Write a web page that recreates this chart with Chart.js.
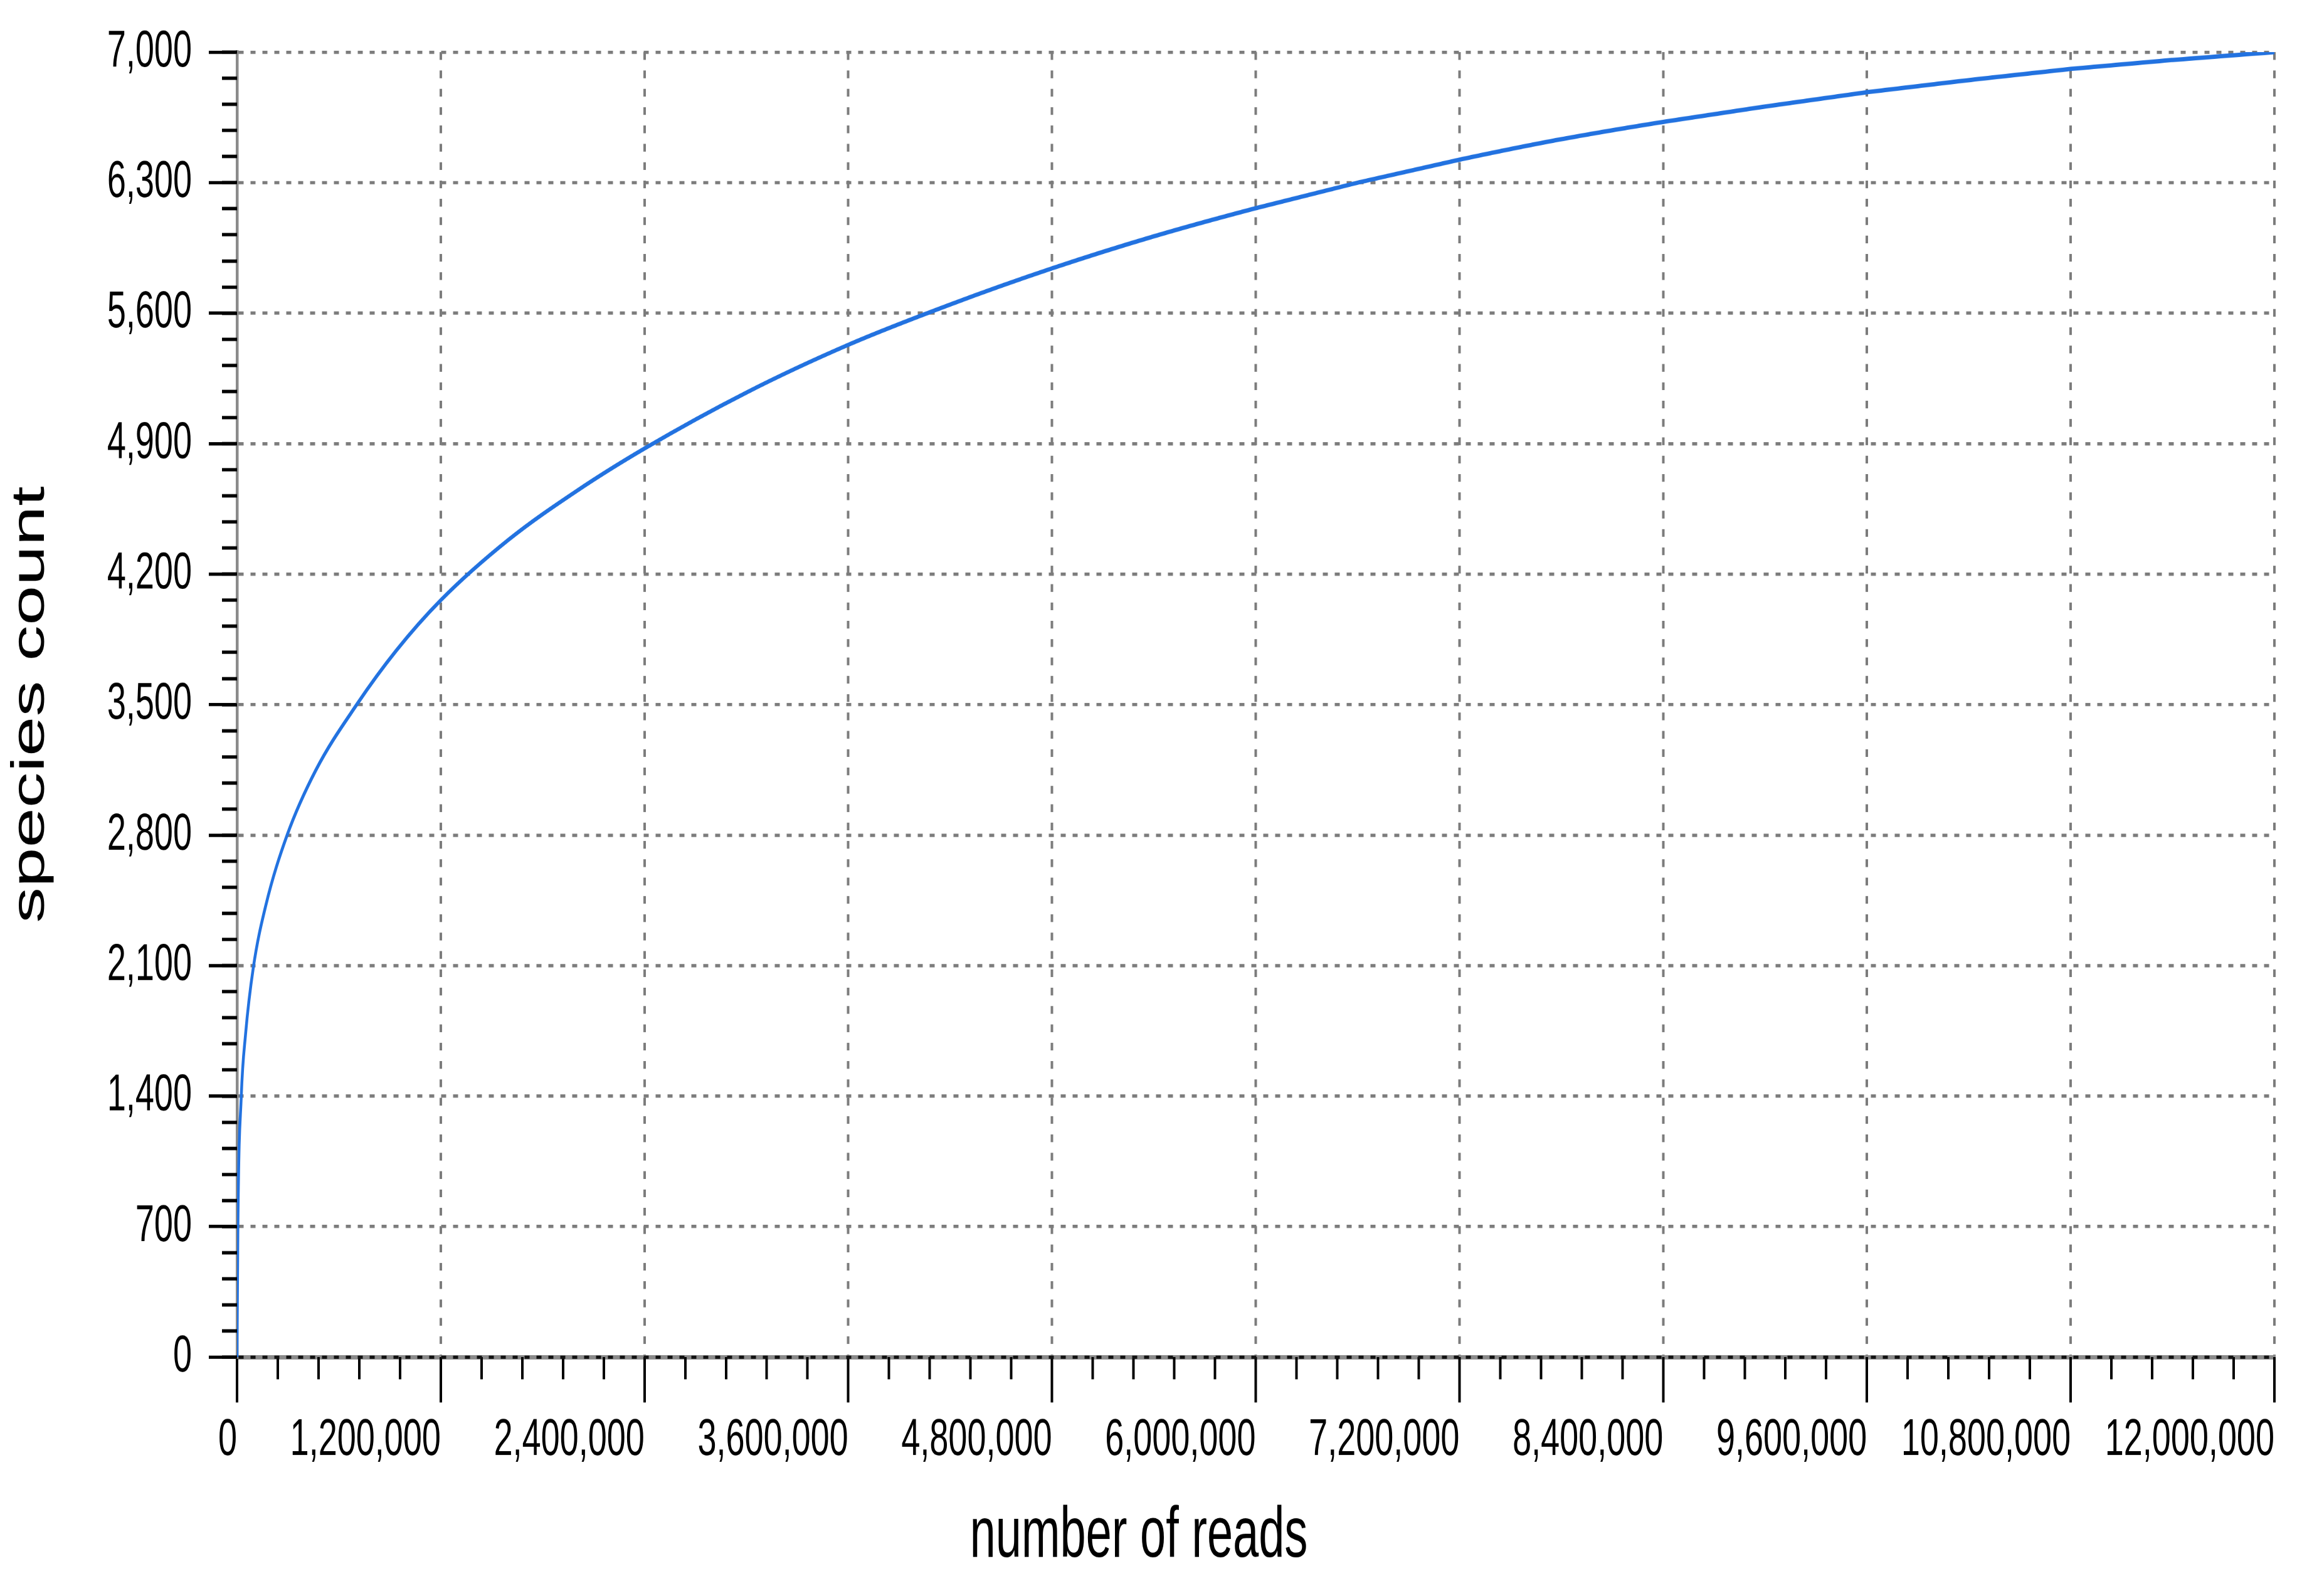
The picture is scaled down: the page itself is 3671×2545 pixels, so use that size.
<!DOCTYPE html>
<html>
<head>
<meta charset="utf-8">
<title>species count vs number of reads</title>
<script src="https://cdn.jsdelivr.net/npm/chart.js@4.4.1/dist/chart.umd.min.js"></script>
<style>
    html, body { margin: 0; padding: 0; background: #ffffff; }
    #page { width: 3671px; height: 2545px; overflow: hidden; position: relative; }
    /* the source picture is stretched vertically, so the chart is drawn flat and then scaled */
    #wrap { width: 3671px; height: 1653px; transform: scaleY(1.5396); transform-origin: 0 0; }
</style>
</head>
<body>
<div id="page"><div id="wrap"><canvas id="RarefactionChart"></canvas></div></div>
<script>
// Values (number of reads -> species count)
const reads = [0, 5000, 25000, 50000, 96000, 170000, 295000, 465000, 705000, 938000,
    1200000, 1600000, 2000000, 2400000, 3000000, 3600000, 4200000, 4800000, 5400000,
    6000000, 6600000, 7200000, 7800000, 8400000, 9000000, 9600000, 10200000,
    10800000, 11400000, 12000000];
const species = [0, 700, 1400, 1730, 2090, 2425, 2800, 3150, 3500, 3790,
    4060, 4385, 4646, 4874, 5174, 5430, 5646, 5840, 6012,
    6163, 6300, 6423, 6533, 6626, 6708, 6785, 6850,
    6910, 6958, 7000];

// Axis ranges and tick steps
const xRange = [0, 12000000];
const xMajorStep = 1200000;
const xMinorStep = 240000;
const yRange = [0, 7000];
const yMajorStep = 700;
const yMinorStep = 140;

const font = "'Liberation Sans', Arial, sans-serif";
const gridGray = '#7c7c7c';

let points = reads.map((r, i) => ({ x: r, y: species[i] }));

// the line on the zero value is drawn black over a grey axis line
function gridColor(ctx) {
    return ctx.tick && ctx.tick.value === 0 ? '#111' : gridGray;
}

new Chart("RarefactionChart", {
    type: "line",
    data: {
        datasets: [{
            label: "species count",
            data: points,
            borderColor: "#2272e0",
            borderWidth: 4.5,
            pointRadius: 0,
            cubicInterpolationMode: 'monotone',
            fill: false,
            xAxisID: 'x',
            yAxisID: 'y'
        }]
    },
    options: {
        responsive: true,
        maintainAspectRatio: false,
        devicePixelRatio: 2,
        animation: false,
        layout: {
            padding: { left: 5, right: 44, top: 53.6, bottom: 16.6 }
        },
        plugins: {
            legend: { display: false },
            tooltip: { enabled: false },
            title: {
                display: true,
                position: 'bottom',
                text: 'number of reads',
                color: '#000',
                font: { family: font, size: 74, weight: 'normal' },
                padding: { top: 24, bottom: 0 }
            }
        },
        scales: {
            x: {
                type: 'linear',
                position: 'bottom',
                weight: 1,
                min: xRange[0],
                max: xRange[1],
                afterFit: (scale) => { scale.height = 118; },
                ticks: {
                    stepSize: xMajorStep,
                    align: 'end',
                    padding: 7,
                    maxRotation: 0,
                    minRotation: 0,
                    color: '#000',
                    font: { family: font, size: 54 },
                    callback: (v) => Number(v).toLocaleString('en-US')
                },
                grid: {
                    color: gridColor,
                    lineWidth: 4,
                    drawTicks: true,
                    tickLength: 47,
                    tickColor: '#000',
                    tickWidth: 4
                },
                border: { display: true, color: '#8a8a8a', width: 4.5, dash: [8, 11], z: -1 }
            },
            xMinor: {
                type: 'linear',
                position: 'bottom',
                weight: 0,
                min: xRange[0],
                max: xRange[1],
                afterFit: (scale) => { scale.height = 0; },
                ticks: { stepSize: xMinorStep, display: false },
                grid: {
                    drawOnChartArea: false,
                    drawTicks: true,
                    tickLength: 23,
                    tickColor: '#000',
                    tickWidth: 4
                },
                border: { display: false }
            },
            y: {
                type: 'linear',
                position: 'left',
                weight: 1,
                min: yRange[0],
                max: yRange[1],
                afterFit: (scale) => { scale.width = 373; },
                ticks: {
                    stepSize: yMajorStep,
                    padding: 27,
                    color: '#000',
                    font: { family: font, size: 54, lineHeight: 1 },
                    callback: (v) => Number(v).toLocaleString('en-US')
                },
                grid: {
                    color: gridColor,
                    lineWidth: 3.4,
                    drawTicks: true,
                    tickLength: 45,
                    tickColor: '#000',
                    tickWidth: 3.4
                },
                border: { display: true, color: '#8a8a8a', width: 4.5, dash: [8, 11], z: -1 },
                title: {
                    display: true,
                    text: 'species count',
                    color: '#000',
                    font: { family: font, size: 74, weight: 'normal' },
                    padding: 0
                }
            },
            yMinor: {
                type: 'linear',
                position: 'left',
                weight: 0,
                min: yRange[0],
                max: yRange[1],
                afterFit: (scale) => { scale.width = 0; },
                ticks: { stepSize: yMinorStep, display: false },
                grid: {
                    drawOnChartArea: false,
                    drawTicks: true,
                    tickLength: 24,
                    tickColor: '#000',
                    tickWidth: 3.4
                },
                border: { display: false }
            }
        }
    }
});
</script>
</body>
</html>
